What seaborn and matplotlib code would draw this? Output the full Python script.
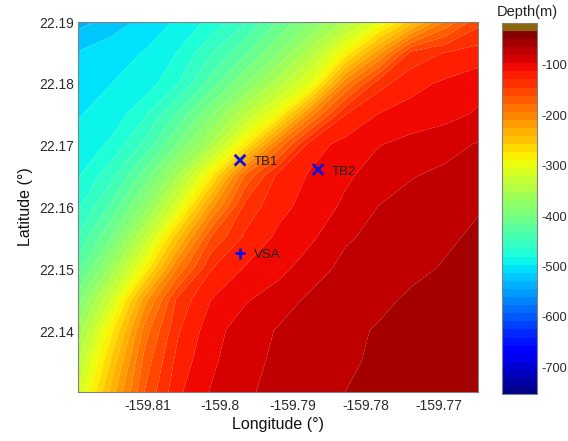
import numpy as np
import matplotlib
matplotlib.use("Agg")
import matplotlib.pyplot as plt
import matplotlib.transforms as mtrans
import seaborn as sns
import pandas as pd

lons = [-159.8199, -159.81537, -159.81071, -159.80619, -159.80167, -159.79701, -159.79249,
        -159.78797, -159.78331, -159.77879, -159.77427, -159.76962, -159.7651]
lats = [22.1900, 22.1850, 22.1800, 22.1752, 22.1703, 22.1653, 22.1603, 22.1553, 22.1503,
        22.1452, 22.1403, 22.1353, 22.1303]
depth_r01 = [-535, -522, -508, -494, -476, -450, -415, -385, -350, -305, -250, -190, -150]
depth_r02 = [-512, -503, -496, -480, -450, -420, -385, -345, -285, -215, -140, -128, -122]
depth_r03 = [-504, -497, -490, -465, -425, -385, -345, -300, -195, -135, -118, -110, -103]
depth_r04 = [-498, -492, -468, -430, -388, -340, -290, -200, -130, -113, -107, -103, -95]
depth_r05 = [-493, -478, -445, -400, -352, -280, -190, -120, -108, -98, -92, -86, -80]
depth_r06 = [-483, -455, -410, -355, -280, -175, -125, -111, -100, -90, -82, -78, -70]
depth_r07 = [-468, -430, -378, -310, -215, -140, -118, -107, -94, -81, -76, -71, -66]
depth_r08 = [-447, -402, -335, -245, -160, -126, -110, -100, -83, -77, -72, -67, -63]
depth_r09 = [-425, -365, -285, -190, -130, -112, -103, -88, -77, -72, -68, -64, -62]
depth_r10 = [-392, -320, -215, -140, -113, -99, -88, -78, -73, -68, -63, -61, -60]
depth_r11 = [-365, -280, -185, -131, -104, -88, -80, -73, -68, -64, -62, -60, -59]
depth_r12 = [-340, -255, -170, -123, -100, -86, -78, -72, -67, -63, -61, -60, -59]
depth_r13 = [-320, -235, -160, -116, -96, -83, -77, -71, -65, -63, -61, -60, -58]

stations = ["TB1", "TB2", "VSA"]
station_lon = [-159.7977, -159.7870, -159.7977]
station_lat = [22.1677, 22.1662, 22.1527]

xticks = [-159.81, -159.80, -159.79, -159.78, -159.77]
xlabels = ["-159.81", "-159.8", "-159.79", "-159.78", "-159.77"]
yticks = [22.14, 22.15, 22.16, 22.17, 22.18, 22.19]
ylabels = ["22.14", "22.15", "22.16", "22.17", "22.18", "22.19"]
cticks = [-700, -600, -500, -400, -300, -200, -100]

sns.set_theme(style="white")
plt.rcParams["font.family"] = ["Liberation Sans", "DejaVu Sans"]
W, H = 568, 441
fig = plt.figure(figsize=(W / 100, H / 100), dpi=100)
ax = fig.add_axes([78 / W, 1 - 392 / H, 400 / W, 370 / H])
cax = fig.add_axes([502 / W, 1 - 394 / H, 35 / W, 371 / H])

Z = np.array([depth_r01, depth_r02, depth_r03, depth_r04, depth_r05, depth_r06, depth_r07,
              depth_r08, depth_r09, depth_r10, depth_r11, depth_r12, depth_r13])
levels = list(np.arange(-753, -33 + 1, 16)) + [-23]
jet = plt.get_cmap("jet")
n = len(levels) - 2
colors = [jet((i + 0.5) / n) for i in range(n)] + [(0.55, 0.40, 0.05, 1)]
cs = ax.contourf(lons, lats, Z, levels=levels, colors=colors, antialiased=True)

df = pd.DataFrame({"lon": station_lon, "lat": station_lat, "name": stations})
sns.scatterplot(data=df, x="lon", y="lat", style="name", markers={"TB1": "x", "TB2": "x", "VSA": "+"},
                color="#1010e0", s=60, linewidth=2, legend=False, ax=ax, zorder=5)
for lo, la, name in zip(station_lon, station_lat, stations):
    ax.annotate(name, (lo, la), xytext=(14, -2), textcoords="offset pixels", va="center", ha="left",
                fontsize=9.5, color="#222222")

ax.set_xlim(-159.8199, -159.7651)
ax.set_ylim(22.1303, 22.1900)
ax.set_xticks(xticks, xlabels)
ax.set_yticks(yticks, ylabels)
ax.tick_params(direction="in", length=3, width=0.7, color="#666666", labelsize=10, labelcolor="#2a2a2a",
               bottom=True, left=True)
ax.tick_params(axis="x", pad=5)
ax.tick_params(axis="y", pad=3)
shift = mtrans.ScaledTranslation(-3 / 100, 0, fig.dpi_scale_trans)
for lab in ax.get_xticklabels():
    lab.set_transform(lab.get_transform() + shift)
ax.set_xlabel("Longitude (°)", fontsize=11.5, color="#111111", labelpad=3)
ax.set_ylabel("Latitude (°)", fontsize=11.5, color="#111111", labelpad=4)
for s in ax.spines.values():
    s.set_color("#808080")
    s.set_linewidth(0.8)

cb = fig.colorbar(cs, cax=cax, ticks=cticks)
cb.ax.set_yticks(cticks, [str(v) for v in cticks])
cb.ax.tick_params(direction="in", length=3, width=0.7, color="#555555", labelsize=9.2, labelcolor="#2a2a2a",
                  left=True, right=True, pad=3)
cb.outline.set_edgecolor("#808080")
cb.outline.set_linewidth(0.8)
fig.text(527 / W, 1 - 12 / H, "Depth(m)", ha="center", va="center", fontsize=10.5, color="#222222")
fig.savefig("out.png", dpi=100)
